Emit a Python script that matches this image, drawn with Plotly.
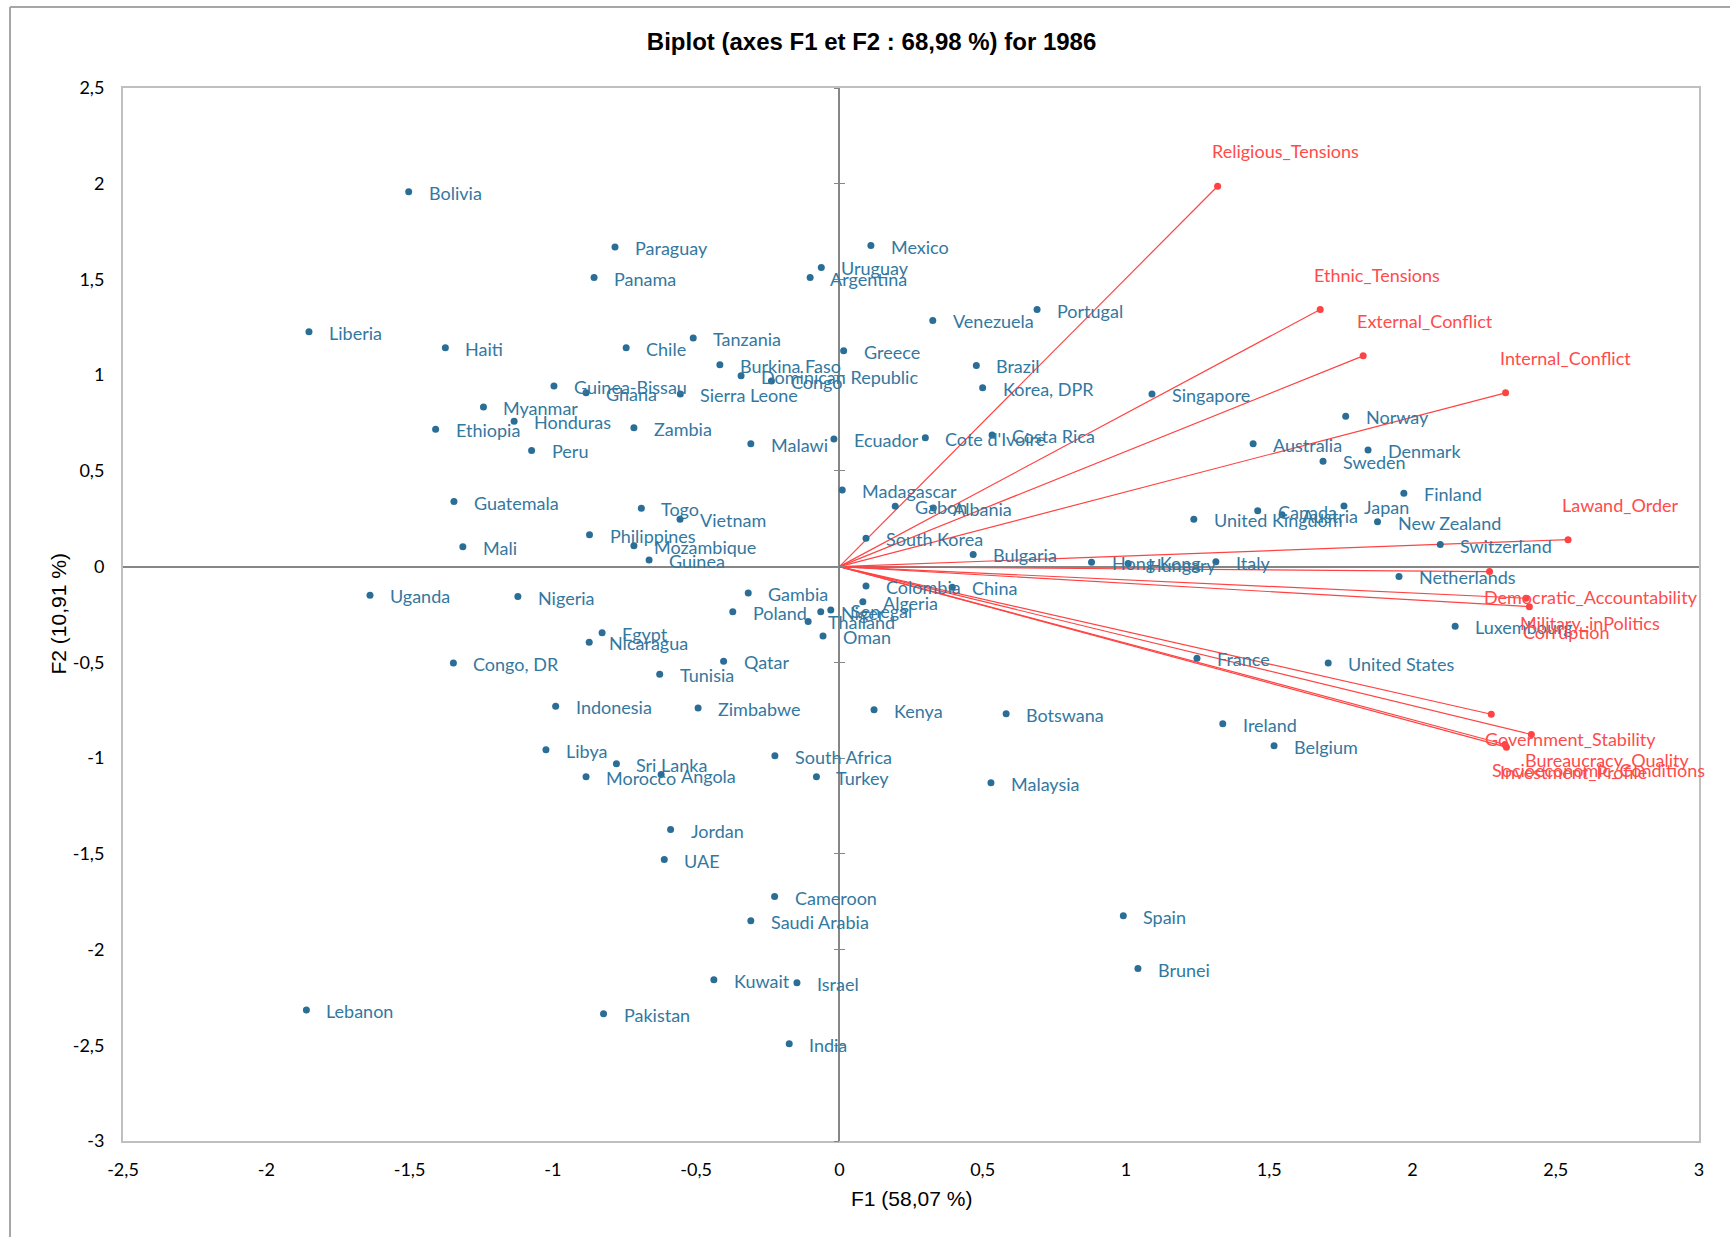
import plotly.graph_objects as go

# ---------------- data ----------------
countries = [
    "Bolivia", "Paraguay", "Panama", "Mexico", "Uruguay", "Argentina", "Liberia", "Haiti",
    "Tanzania", "Chile", "Portugal", "Venezuela", "Greece", "Brazil", "Burkina Faso",
    "Dominican Republic", "Congo", "Korea, DPR", "Singapore", "Guinea-Bissau", "Ghana",
    "Sierra Leone", "Myanmar", "Honduras", "Ethiopia", "Zambia", "Peru", "Malawi", "Ecuador",
    "Cote d'Ivoire", "Costa Rica", "Norway", "Australia", "Denmark", "Sweden", "Madagascar",
    "Gabon", "Albania", "Finland", "Japan", "Canada", "Austria", "United Kingdom",
    "New Zealand", "Guatemala", "Togo", "Vietnam", "South Korea", "Philippines", "Mozambique",
    "Mali", "Guinea", "Bulgaria", "Switzerland", "Hong Kong", "Hungary", "Italy", "Netherlands",
    "Uganda", "Nigeria", "Gambia", "Colombia", "China", "Algeria", "Poland", "Niger", "Senegal",
    "Thailand", "Oman", "Egypt", "Nicaragua", "Congo, DR", "Qatar", "Tunisia", "Indonesia",
    "Zimbabwe", "Kenya", "Botswana", "Luxembourg", "France", "United States", "Ireland",
    "Belgium", "Libya", "Sri Lanka", "Morocco", "Angola", "South Africa", "Turkey", "Malaysia",
    "Jordan", "UAE", "Cameroon", "Saudi Arabia", "Spain", "Brunei", "Kuwait", "Israel",
    "Lebanon", "Pakistan", "India",
]
f1_obs = [
    -1.503, -0.783, -0.856, 0.110, -0.063, -0.102, -1.851, -1.375,
    -0.510, -0.744, 0.690, 0.326, 0.015, 0.478, -0.417,
    -0.343, -0.237, 0.500, 1.091, -0.996, -0.884,
    -0.555, -1.242, -1.135, -1.409, -0.717, -1.074, -0.309, -0.019,
    0.300, 0.533, 1.767, 1.444, 1.845, 1.688, 0.010,
    0.195, 0.328, 1.970, 1.761, 1.460, 1.545, 1.237,
    1.878, -1.345, -0.691, -0.556, 0.093, -0.872, -0.717,
    -1.314, -0.664, 0.467, 2.097, 0.880, 1.008, 1.314, 1.953,
    -1.638, -1.122, -0.318, 0.093, 0.394, 0.082, -0.372, -0.065, -0.030,
    -0.109, -0.057, -0.828, -0.873, -1.347, -0.404, -0.627, -0.990,
    -0.493, 0.121, 0.582, 2.149, 1.248, 1.706, 1.338,
    1.517, -1.024, -0.778, -0.884, -0.622, -0.225, -0.080, 0.529,
    -0.589, -0.611, -0.226, -0.309, 0.991, 1.042, -0.438, -0.148,
    -1.860, -0.823, -0.175,
]
f2_obs = [
    1.958, 1.669, 1.510, 1.677, 1.563, 1.510, 1.227, 1.143,
    1.194, 1.143, 1.343, 1.286, 1.128, 1.051, 1.054,
    0.997, 0.970, 0.934, 0.902, 0.943, 0.908,
    0.902, 0.834, 0.759, 0.717, 0.726, 0.607, 0.642, 0.667,
    0.673, 0.687, 0.785, 0.642, 0.609, 0.550, 0.400,
    0.315, 0.306, 0.383, 0.317, 0.292, 0.271, 0.247,
    0.235, 0.340, 0.305, 0.248, 0.148, 0.167, 0.109,
    0.104, 0.035, 0.064, 0.115, 0.023, 0.016, 0.026, -0.051,
    -0.150, -0.156, -0.138, -0.101, -0.108, -0.183, -0.236, -0.236, -0.226,
    -0.286, -0.362, -0.345, -0.395, -0.503, -0.494, -0.562, -0.729,
    -0.738, -0.747, -0.769, -0.312, -0.479, -0.503, -0.820,
    -0.936, -0.956, -1.030, -1.097, -1.086, -0.988, -1.097, -1.129,
    -1.373, -1.530, -1.723, -1.849, -1.824, -2.099, -2.158, -2.174,
    -2.316, -2.336, -2.492,
]

variables = [
    "Religious_Tensions", "Ethnic_Tensions", "External_Conflict", "Internal_Conflict",
    "Lawand_Order", "Democratic_Accountability", "Military_inPolitics", "Corruption",
    "Government_Stability", "Bureaucracy_Quality", "Socioeconomic_Conditions",
    "Investment_Profile",
]
f1_var = [1.320, 1.678, 1.828, 2.325, 2.543, 2.269, 2.396, 2.408, 2.275, 2.415, 2.323, 2.328]
f2_var = [1.987, 1.343, 1.101, 0.908, 0.141, -0.026, -0.165, -0.209, -0.771, -0.877, -0.929, -0.943]

x_ticks = [-2.5, -2, -1.5, -1, -0.5, 0, 0.5, 1, 1.5, 2, 2.5, 3]
x_tick_text = ["-2,5", "-2", "-1,5", "-1", "-0,5", "0", "0,5", "1", "1,5", "2", "2,5", "3"]
y_ticks = [-3, -2.5, -2, -1.5, -1, -0.5, 0, 0.5, 1, 1.5, 2, 2.5]
y_tick_text = ["-3", "-2,5", "-2", "-1,5", "-1", "-0,5", "0", "0,5", "1", "1,5", "2", "2,5"]

title_text = "Biplot (axes F1 et F2 : 68,98 %) for 1986"
x_title = "F1 (58,07 %)"
y_title = "F2 (10,91 %)"

# ---------------- styling ----------------
BLUE = "#2A6E97"
BLUE_TXT = "#33789F"
RED = "#FF4343"
RED_TXT = "#FF4B4B"
LABEL_FONT = "Lato"
ZERO_C = "#868686"
X_RANGE = [-2.5, 3]
Y_RANGE = [-3, 2.5]

fig = go.Figure()

# variable arrows
for name, vx, vy in zip(variables, f1_var, f2_var):
    fig.add_trace(go.Scatter(x=[0, vx], y=[0, vy], mode="lines",
                             line=dict(color=RED, width=1.2),
                             hoverinfo="skip", showlegend=False))
fig.add_trace(go.Scatter(x=f1_var, y=f2_var, mode="markers",
                         marker=dict(color=RED, size=7),
                         text=variables, hoverinfo="text", showlegend=False))

# observations
fig.add_trace(go.Scatter(x=f1_obs, y=f2_obs, mode="markers",
                         marker=dict(color=BLUE, size=7),
                         text=countries, hoverinfo="text", showlegend=False))

annotations = []
for name, cx, cy in zip(countries, f1_obs, f2_obs):
    annotations.append(dict(x=cx, y=cy, xref="x", yref="y", text=name,
                            showarrow=False, xanchor="left", yanchor="middle",
                            xshift=18, yshift=-1,
                            font=dict(family=LABEL_FONT, size=18, color=BLUE_TXT)))
for name, vx, vy in zip(variables, f1_var, f2_var):
    xs = -8
    if name == "Socioeconomic_Conditions":
        xs = -15
    annotations.append(dict(x=vx, y=vy, xref="x", yref="y", text=name,
                            showarrow=False, xanchor="left", yanchor="middle",
                            xshift=xs, yshift=(35 if vy > 0 else -25),
                            font=dict(family=LABEL_FONT, size=18, color=RED_TXT)))

# axis titles
annotations.append(dict(x=0.5, y=0, xref="paper", yref="paper", text=x_title,
                        showarrow=False, xanchor="center", yanchor="middle", yshift=-57,
                        font=dict(family="Liberation Sans", size=21, color="#000000")))
annotations.append(dict(x=0, y=0.5, xref="paper", yref="paper", text=y_title,
                        showarrow=False, xanchor="center", yanchor="middle", xshift=-65,
                        textangle=-90,
                        font=dict(family="Liberation Sans", size=21, color="#000000")))

# dummy traces so the tick-mark overlay axes are drawn
fig.add_trace(go.Scatter(x=[None], y=[None], xaxis="x", yaxis="y2", showlegend=False, hoverinfo="skip"))
fig.add_trace(go.Scatter(x=[None], y=[None], xaxis="x", yaxis="y3", showlegend=False, hoverinfo="skip"))

x0_frac = (0 - X_RANGE[0]) / (X_RANGE[1] - X_RANGE[0])

tick_axis = dict(showline=False, zeroline=False, showgrid=False, showticklabels=False,
                 ticklen=5, tickwidth=1, tickcolor=ZERO_C)

fig.update_layout(
    width=1730, height=1237,
    margin=dict(l=123, r=31, t=88, b=96, pad=0),
    paper_bgcolor="white", plot_bgcolor="white",
    separators=", ",
    title=dict(text=f"<b>{title_text}</b>", xref="container", yref="container",
               x=0.5038, y=1 - 42 / 1237, xanchor="center", yanchor="middle",
               font=dict(family="Liberation Sans", size=24, color="#000000")),
    xaxis=dict(range=X_RANGE, tickvals=x_ticks, ticktext=x_tick_text,
               showgrid=False, zeroline=True, zerolinecolor=ZERO_C, zerolinewidth=1.5,
               showline=True, mirror=True, linecolor="#BFBFBF", linewidth=2,
               ticks="outside", ticklen=11, tickcolor="rgba(0,0,0,0)",
               tickfont=dict(family=LABEL_FONT, size=18, color="#000000")),
    yaxis=dict(range=Y_RANGE, tickvals=y_ticks, ticktext=y_tick_text,
               showgrid=False, zeroline=True, zerolinecolor=ZERO_C, zerolinewidth=1.5,
               showline=True, mirror=True, linecolor="#BFBFBF", linewidth=2,
               ticks="outside", ticklen=13, tickcolor="rgba(0,0,0,0)",
               tickfont=dict(family=LABEL_FONT, size=18, color="#000000")),
    yaxis2=dict(overlaying="y", anchor="free", position=x0_frac, range=Y_RANGE,
                tickvals=y_ticks, ticks="outside", **tick_axis),
    yaxis3=dict(overlaying="y", anchor="free", position=x0_frac, range=Y_RANGE,
                tickvals=y_ticks, ticks="inside", **tick_axis),
    annotations=annotations,
    showlegend=False,
)

# outer chart-area border (top and left edges visible in the reference)
left_px, top_px = 10, 7
pw, ph = 1730 - 123 - 31, 1237 - 88 - 96
bx = (left_px - 123) / pw
by = (1237 - 96 - top_px) / ph
fig.add_shape(type="line", xref="paper", yref="paper", x0=bx, y0=by, x1=1.2, y1=by,
              line=dict(color="#A6A6A6", width=2))
fig.add_shape(type="line", xref="paper", yref="paper", x0=bx, y0=by, x1=bx, y1=-0.2,
              line=dict(color="#A6A6A6", width=2))

fig.write_html("out.html", config={"displayModeBar": False},
               post_script="document.body.style.margin='0';document.body.style.overflow='hidden';")
